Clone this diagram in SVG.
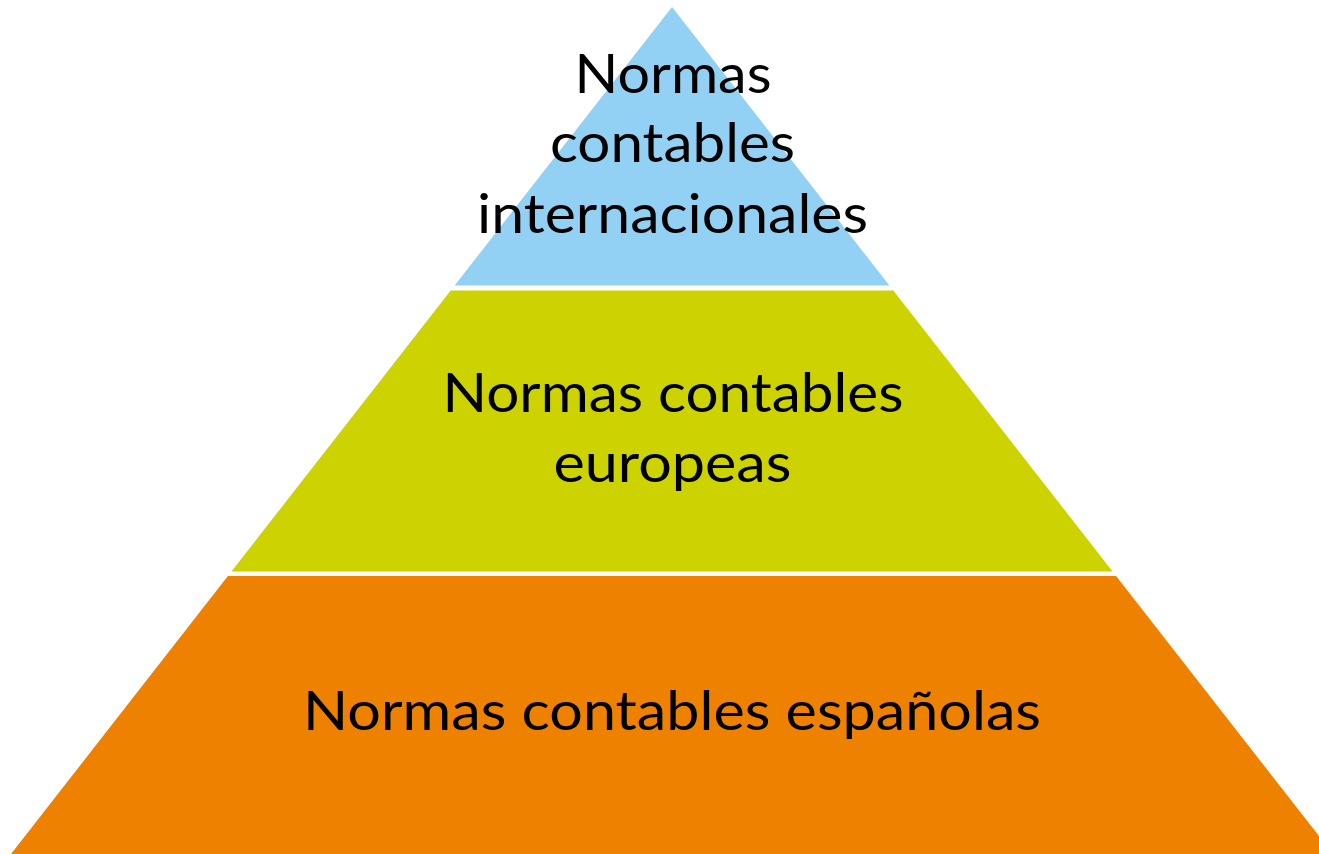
<svg xmlns="http://www.w3.org/2000/svg" width="1319" height="854" viewBox="0 0 1319 854">
<style>
.t{font-family:Lato,"Liberation Sans",sans-serif;font-size:55px;fill:#000;text-anchor:middle}
</style>
<rect width="1319" height="854" fill="#fff"/>
<g id="top">
<polygon points="672,7 889.4,285.5 454.6,285.5" fill="#92D0F4"/>
<text class="t" x="673" y="92.5" textLength="197" lengthAdjust="spacingAndGlyphs">Normas</text>
<text class="t" x="672.5" y="162" textLength="245" lengthAdjust="spacingAndGlyphs">contables</text>
<text class="t" x="672.5" y="232.5" textLength="391" lengthAdjust="spacingAndGlyphs">internacionales</text>
</g>
<g id="middle">
<polygon points="450.7,290.5 893.3,290.5 1112.6,571.5 231.4,571.5" fill="#CCD300"/>
<text class="t" x="673" y="412" textLength="461" lengthAdjust="spacingAndGlyphs">Normas contables</text>
<text class="t" x="672.5" y="482" textLength="238" lengthAdjust="spacingAndGlyphs">europeas</text>
</g>
<g id="bottom">
<polygon points="227.9,576 1116.1,576 1333,854 11,854" fill="#EE8100"/>
<text class="t" x="672" y="730" textLength="738" lengthAdjust="spacingAndGlyphs">Normas contables españolas</text>
</g>
<g id="connectors"/>
</svg>
